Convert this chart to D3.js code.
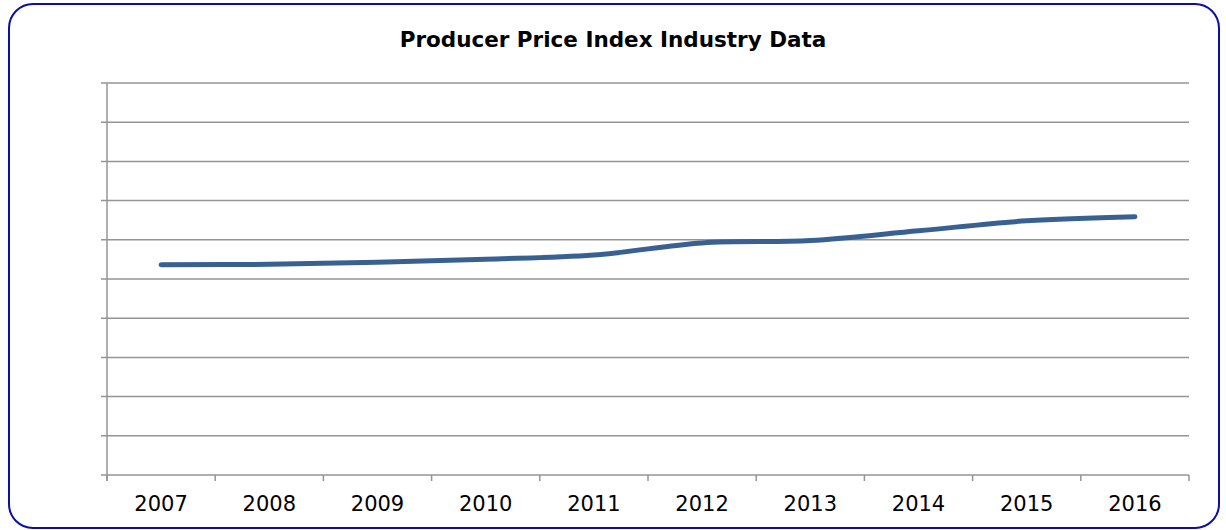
<!DOCTYPE html>
<html>
<head>
<meta charset="utf-8">
<script src="https://cdn.jsdelivr.net/npm/d3@7"></script>
<style>
body { margin: 0; background: #fff; }
svg { display: block; }
</style>
</head>
<body>
<script>
var years = ['2007','2008','2009','2010','2011','2012','2013','2014','2015','2016'];
var ppi = [107.3, 107.5, 108.5, 110.1, 112.2, 118.4, 119.6, 124.6, 129.7, 131.8];
var yTicks = [0, 20, 40, 60, 80, 100, 120, 140, 160, 180, 200];
var title = 'Producer Price Index Industry Data';

var W = 1226, H = 530;
var svg = d3.select('body').append('svg').attr('width', W).attr('height', H);

// rounded frame
svg.append('rect')
	.attr('x', 9).attr('y', 4)
	.attr('width', 1210).attr('height', 524)
	.attr('rx', 24).attr('ry', 24)
	.style('fill', '#fff')
	.style('stroke', '#0c10a0')
	.style('stroke-width', 2);

svg.append('text')
	.attr('x', 613).attr('y', 47)
	.attr('text-anchor', 'middle')
	.style('font-family', 'DejaVu Sans, Verdana, sans-serif')
	.style('font-weight', 'bold')
	.style('font-size', '21.5px')
	.text(title);

var plotL = 107, plotR = 1189, plotT = 83, plotB = 475;

var x = d3.scaleBand().domain(years).range([plotL, plotR]);
var y = d3.scaleLinear().domain([0, 200]).range([plotB, plotT]);

// horizontal gridlines
svg.append('g').selectAll('line').data(yTicks).enter().append('line')
	.attr('x1', plotL - 6).attr('x2', plotR)
	.attr('y1', function(d){ return y(d); })
	.attr('y2', function(d){ return y(d); })
	.style('stroke', '#959595')
	.style('stroke-width', 1.5);

// y axis line
svg.append('line')
	.attr('x1', plotL).attr('x2', plotL)
	.attr('y1', plotT).attr('y2', plotB + 6)
	.style('stroke', '#959595')
	.style('stroke-width', 1.5);

// x axis ticks at category edges
var edges = years.map(function(d){ return x(d); }).concat([plotR]);
svg.append('g').selectAll('line').data(edges).enter().append('line')
	.attr('x1', function(d){ return d; }).attr('x2', function(d){ return d; })
	.attr('y1', plotB).attr('y2', plotB + 6)
	.style('stroke', '#959595')
	.style('stroke-width', 1.5);

svg.append('g').selectAll('text').data(years).enter().append('text')
	.attr('x', function(d){ return x(d) + x.bandwidth() / 2; })
	.attr('y', 511)
	.attr('text-anchor', 'middle')
	.style('font-family', 'DejaVu Sans, Verdana, sans-serif')
	.style('font-size', '21px')
	.style('fill', '#000')
	.text(function(d){ return d; });

var line = d3.line()
	.x(function(d, i){ return x(years[i]) + x.bandwidth() / 2; })
	.y(function(d){ return y(d); })
	.curve(d3.curveCatmullRom.alpha(0));

svg.append('path')
	.datum(ppi)
	.attr('d', line)
	.style('fill', 'none')
	.style('stroke', '#386192')
	.style('stroke-width', 5)
	.style('stroke-linecap', 'round');
</script>
</body>
</html>
